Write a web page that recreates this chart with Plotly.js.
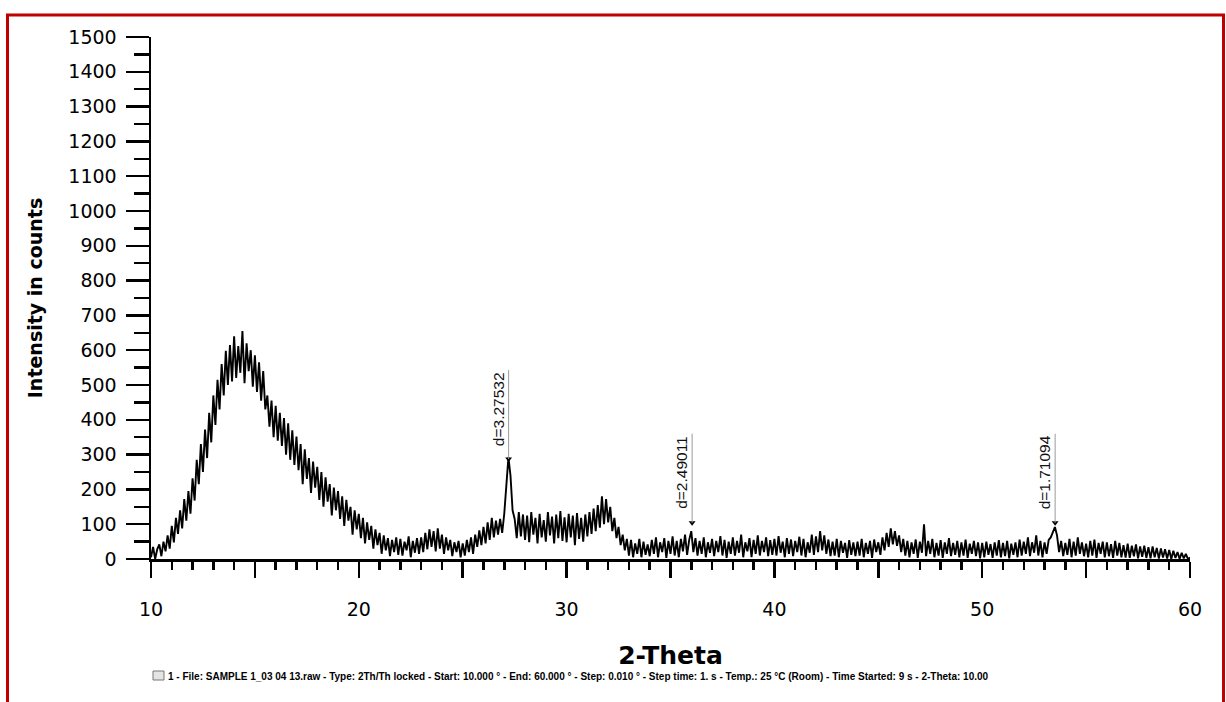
<!DOCTYPE html>
<html>
<head>
<meta charset="utf-8">
<script src="https://cdn.plot.ly/plotly-3.0.1.min.js"></script>
<style>
html,body{margin:0;padding:0;background:#fff;}
#chart{width:1226px;height:702px;}
</style>
</head>
<body>
<div id="chart"></div>
<script>
const thetaStart = 10.0;
const thetaStep = 0.1;
const intensity = [
  5, 35, 0, 28, 42, 8, 50, 22, 68, 30,
  95, 48, 118, 72, 140, 88, 172, 110, 195, 130,
  232, 168, 285, 215, 330, 250, 372, 290, 420, 335,
  470, 385, 515, 430, 560, 470, 598, 500, 615, 510,
  640, 520, 612, 535, 655, 505, 620, 540, 600, 495,
  585, 480, 565, 455, 540, 430, 470, 380, 455, 350,
  440, 340, 420, 325, 405, 300, 390, 285, 370, 270,
  352, 255, 330, 215, 315, 230, 290, 190, 280, 205,
  265, 170, 250, 150, 235, 165, 215, 125, 205, 140,
  195, 115, 180, 95, 170, 110, 150, 70, 140, 85,
  130, 60, 118, 45, 105, 55, 95, 30, 85, 40,
  75, 15, 68, 25, 60, 8, 55, 20, 62, 12,
  58, 10, 50, 25, 65, 5, 52, 18, 60, 15,
  62, 20, 75, 28, 85, 35, 80, 22, 88, 30,
  70, 15, 62, 25, 55, 8, 48, 20, 52, 5,
  45, 10, 55, 20, 62, 15, 70, 35, 82, 40,
  92, 45, 105, 55, 118, 62, 110, 70, 115, 75,
  130, 215, 292, 240, 140, 115, 60, 135, 65, 128,
  55, 125, 48, 135, 70, 118, 45, 130, 62, 112,
  50, 135, 68, 122, 45, 128, 60, 138, 52, 120,
  48, 130, 62, 125, 40, 132, 58, 118, 50, 128,
  65, 135, 72, 145, 80, 155, 90, 180, 100, 172,
  105, 150, 80, 118, 60, 92, 40, 70, 25, 58,
  10, 55, 5, 45, 15, 58, 5, 50, 12, 42,
  8, 55, 15, 62, 5, 48, 20, 60, 3, 52,
  15, 65, 10, 52, 5, 58, 22, 70, 12, 55,
  80, 20, 60, 10, 52, 15, 62, 5, 48, 18,
  58, 8, 52, 20, 66, 10, 55, 3, 50, 15,
  62, 10, 52, 18, 70, 5, 48, 22, 60, 5,
  55, 15, 68, 10, 52, 20, 62, 8, 54, 12,
  58, 10, 66, 18, 50, 5, 60, 15, 56, 8,
  52, 20, 64, 10, 58, 5, 48, 18, 70, 12,
  65, 20, 80, 25, 68, 15, 56, 8, 50, 10,
  58, 5, 52, 18, 46, 3, 54, 12, 48, 8,
  50, 10, 58, 5, 46, 15, 52, 3, 56, 20,
  48, 12, 62, 25, 75, 35, 88, 42, 80, 38,
  68, 20, 58, 10, 52, 5, 48, 15, 56, 3,
  50, 18, 100, 8, 52, 15, 58, 5, 46, 10,
  54, 3, 48, 15, 60, 8, 46, 12, 52, 5,
  48, 10, 56, 3, 44, 15, 52, 8, 48, 2,
  46, 5, 50, 12, 43, 3, 48, 10, 54, 5,
  46, 8, 52, 2, 44, 12, 48, 5, 56, 10,
  50, 15, 62, 8, 48, 18, 68, 10, 52, 5,
  48, 15, 55, 62, 78, 92, 68, 20, 52, 8,
  46, 12, 58, 5, 50, 10, 62, 15, 48, 8,
  44, 5, 52, 10, 56, 3, 46, 15, 50, 5,
  48, 8, 43, 3, 52, 10, 46, 5, 40, 4,
  44, 3, 38, 8, 42, 2, 36, 6, 38, 3,
  34, 2, 36, 5, 32, 1, 30, 4, 28, 1,
  26, 0, 24, 3, 20, 0, 18, 2, 15, 0,
  4
];

// Peak markers (2-theta position, marker intensity, d-spacing label)
const peakTheta = [27.21, 36.04, 53.51];
const peakIntensity = [287, 104, 104];
const peakLabels = ["d=3.27532", "d=2.49011", "d=1.71094"];

// Axis ticks
const xTickVals = [10, 15, 20, 25, 30, 35, 40, 45, 50, 55, 60];
const xTickText = ["10", "", "20", "", "30", "", "40", "", "50", "", "60"];

const xTitle = "2-Theta";
const yTitle = "Intensity in counts";
const footer = "1 - File: SAMPLE 1_03 04 13.raw - Type: 2Th/Th locked - Start: 10.000 ° - End: 60.000 ° - Step: 0.010 ° - Step time: 1. s - Temp.: 25 °C (Room) - Time Started: 9 s - 2-Theta: 10.00";

// ---- Build ----
const theta = intensity.map((_, i) => +(thetaStart + i * thetaStep).toFixed(2));

const FONT = '"Liberation Sans", Arial, sans-serif';
const WIDE = '"DejaVu Sans", Verdana, sans-serif';
const LINE_LEN = 256; // label leader length in counts

const traces = [
  {
    x: theta, y: intensity, type: 'scatter', mode: 'lines',
    line: {color: '#000', width: 1.9}, hoverinfo: 'skip', showlegend: false
  },
  {
    x: peakTheta, y: peakIntensity, type: 'scatter', mode: 'markers',
    marker: {symbol: 'triangle-down', size: 6, color: '#000'},
    hoverinfo: 'skip', showlegend: false, cliponaxis: false
  }
];

const shapes = peakTheta.map((t, i) => ({
  type: 'line', xref: 'x', yref: 'y',
  x0: t, x1: t, y0: peakIntensity[i], y1: peakIntensity[i] + LINE_LEN,
  line: {color: '#9a9a9a', width: 1}
}));

// red frame around the picture (paper coords; plot area is 151..1190 x 37..559)
const px = v => (v - 151) / 1039;
const py = v => (559 - v) / 522;
shapes.push({
  type: 'rect', xref: 'paper', yref: 'paper',
  x0: px(7.5), x1: px(1223.5), y0: py(15), y1: py(720),
  line: {color: '#c00000', width: 3}, fillcolor: 'rgba(0,0,0,0)', layer: 'below'
});
// small icon box before the footer text
shapes.push({
  type: 'rect', xref: 'paper', yref: 'paper',
  x0: px(153), x1: px(164), y0: py(680), y1: py(671),
  line: {color: '#777', width: 1}, fillcolor: '#e4e4e4'
});

const annotations = peakTheta.map((t, i) => ({
  x: t, y: peakIntensity[i] + LINE_LEN, xref: 'x', yref: 'y',
  text: peakLabels[i], showarrow: false, textangle: -90,
  xanchor: 'right', yanchor: 'top', xshift: 0, yshift: 0,
  font: {family: FONT, size: 15.5, color: '#111'}
}));
annotations.push({
  x: px(166), y: py(676), xref: 'paper', yref: 'paper',
  text: '<b>' + footer + '</b>', showarrow: false,
  xanchor: 'left', yanchor: 'middle',
  font: {family: FONT, size: 10, color: '#000'}
});

const layout = {
  width: 1226, height: 702,
  margin: {l: 151, r: 36, t: 37, b: 143},
  paper_bgcolor: '#fff', plot_bgcolor: '#fff',
  font: {family: FONT, color: '#000'},
  showlegend: false,
  xaxis: {
    range: [10, 60], tickmode: 'array', tickvals: xTickVals, ticktext: xTickText,
    ticks: 'outside', ticklen: 16, tickwidth: 2.5, tickcolor: '#000',
    minor: {dtick: 1, ticks: 'outside', ticklen: 8, tickwidth: 2.5, tickcolor: '#000'},
    showline: true, linecolor: '#000', linewidth: 2.5,
    showgrid: false, zeroline: false,
    tickfont: {family: WIDE, size: 19, color: '#000'},
    ticklabelstandoff: 16,
    title: {text: '<b>' + xTitle + '</b>', font: {family: WIDE, size: 25, color: '#000'}, standoff: 27},
    fixedrange: true
  },
  yaxis: {
    range: [0, 1500], dtick: 100, tick0: 0,
    ticks: 'outside', ticklen: 23, tickwidth: 2.5, tickcolor: '#000',
    minor: {dtick: 50, ticks: 'outside', ticklen: 15, tickwidth: 2.5, tickcolor: '#000'},
    showline: true, linecolor: '#000', linewidth: 2.5,
    showgrid: false, zeroline: false,
    tickfont: {family: WIDE, size: 19, color: '#000'},
    ticklabelstandoff: 5,
    title: {text: '<b>' + yTitle + '</b>', font: {family: WIDE, size: 19, color: '#000'}, standoff: 21},
    fixedrange: true
  },
  shapes: shapes,
  annotations: annotations
};

Plotly.newPlot('chart', traces, layout, {displayModeBar: false, staticPlot: true});
</script>
</body>
</html>
